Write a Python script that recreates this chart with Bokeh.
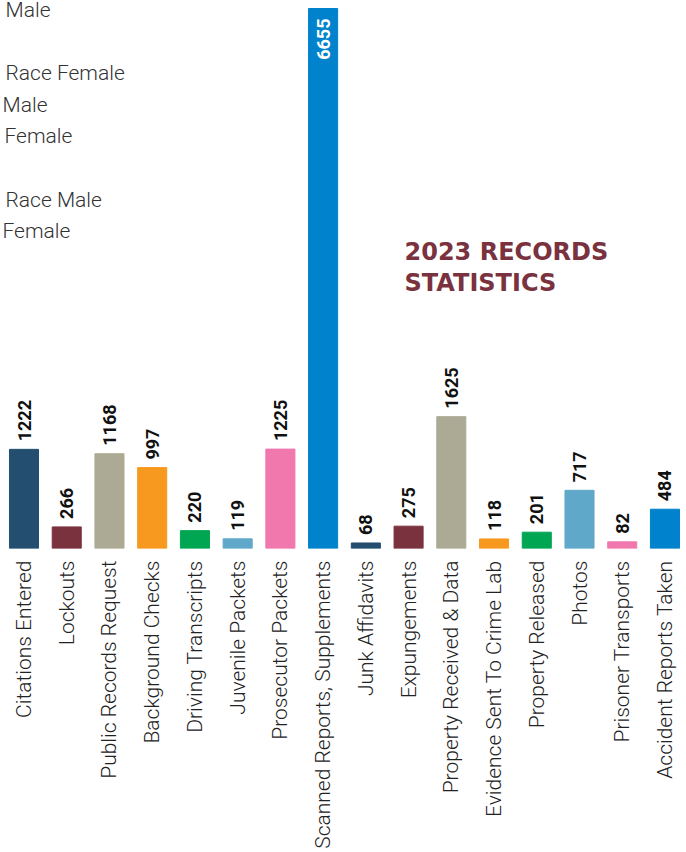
import math
from bokeh.plotting import figure
from bokeh.models import ColumnDataSource, Range1d, FixedTicker, Label
from bokeh.core.properties import value
from bokeh.embed import file_html
from bokeh.resources import INLINE

# ---- data ----
categories = ["Citations Entered", "Lockouts", "Public Records Request", "Background Checks",
              "Driving Transcripts", "Juvenile Packets", "Prosecutor Packets",
              "Scanned Reports, Supplements", "Junk Affidavits", "Expungements",
              "Property Received & Data", "Evidence Sent To Crime Lab", "Property Released",
              "Photos", "Prisoner Transports", "Accident Reports Taken"]
counts = [1222, 266, 1168, 997, 220, 119, 1225, 6655, 68, 275, 1625, 118, 201, 717, 82, 484]
palette = ["#234e70", "#7a323e", "#acaa94", "#f7991e", "#00a651", "#5fa8c9", "#f078ad", "#0082cc"]
title_lines = ["2023 RECORDS", "STATISTICS"]
stray_lines = ["Male", "", "Race Female", "Male", "Female", "", "Race Male", "Female"]
stray_indent = [6, 0, 6, 3, 5, 0, 6, 3]

# ---- build ----
n = len(categories)
xs = list(range(n))
colors = [palette[i % len(palette)] for i in range(n)]
ymax = max(counts)
BAR_H = 540      # pixel height of the tallest bar
TOP_PAD = 8      # white space above the tallest bar
FRAME_H = BAR_H + TOP_PAD
y_end = ymax * FRAME_H / BAR_H
label_room = 60 * ymax / BAR_H
inside = [c > ymax - label_room for c in counts]
LABEL_ORIGIN = FRAME_H + 8   # screen-unit origin for annotations (measured from top)

bars = ColumnDataSource(dict(x=xs, top=counts, color=colors))
out_src = ColumnDataSource(dict(x=[x for x, f in zip(xs, inside) if not f],
                                y=[c for c, f in zip(counts, inside) if not f],
                                t=[str(c) for c, f in zip(counts, inside) if not f]))
in_src = ColumnDataSource(dict(x=[x for x, f in zip(xs, inside) if f],
                               y=[c for c, f in zip(counts, inside) if f],
                               t=[str(c) for c, f in zip(counts, inside) if f]))

p = figure(frame_width=686, frame_height=FRAME_H,
           x_range=Range1d(-0.55, n - 0.496), y_range=Range1d(0, y_end),
           output_backend="svg", toolbar_location=None,
           min_border_top=0, min_border_left=0, min_border_right=0, min_border_bottom=0)
p.outline_line_color = None
p.background_fill_color = "white"
p.border_fill_color = "white"
p.xgrid.visible = False
p.ygrid.visible = False
p.yaxis.visible = False

p.vbar(x="x", top="top", bottom=0, width=0.68, color="color", source=bars)

p.text(x="x", y="y", text="t", source=out_src, angle=math.pi / 2,
       text_align="left", text_baseline="middle", y_offset=-8,
       text_font=value("Roboto"), text_font_style="bold", text_font_size="18px",
       text_color="#111111")
p.text(x="x", y="y", text="t", source=in_src, angle=math.pi / 2,
       text_align="right", text_baseline="middle", y_offset=10,
       text_font=value("Roboto"), text_font_style="bold", text_font_size="18px",
       text_color="white")

ax = p.xaxis[0]
ax.ticker = FixedTicker(ticks=xs)
ax.major_label_overrides = {i: c for i, c in enumerate(categories)}
ax.major_label_orientation = math.pi / 2
ax.major_label_standoff = 12
ax.major_tick_line_color = None
ax.major_tick_out = 0
ax.major_tick_in = 0
ax.minor_tick_line_color = None
ax.axis_line_color = None
ax.major_label_text_font = "Roboto Light"
ax.major_label_text_font_size = "21px"
ax.major_label_text_color = "#222222"

# title (screen units)
for k, line in enumerate(title_lines):
    p.add_layout(Label(x=404, y=LABEL_ORIGIN - 259 - 31 * k, x_units="screen", y_units="screen",
                       text=line, text_font="DejaVu Sans", text_font_style="bold",
                       text_font_size="24px", text_color="#7a323e",
                       text_baseline="alphabetic"))

# stray text lines
for k, (line, ind) in enumerate(zip(stray_lines, stray_indent)):
    if line:
        p.add_layout(Label(x=ind - 1, y=LABEL_ORIGIN - 17 - 31.7 * k, x_units="screen",
                           y_units="screen", text=line, text_font="Roboto Light",
                           text_font_size="21px", text_color="#333333",
                           text_baseline="alphabetic"))

open("out.html", "w").write(file_html(p, INLINE))
